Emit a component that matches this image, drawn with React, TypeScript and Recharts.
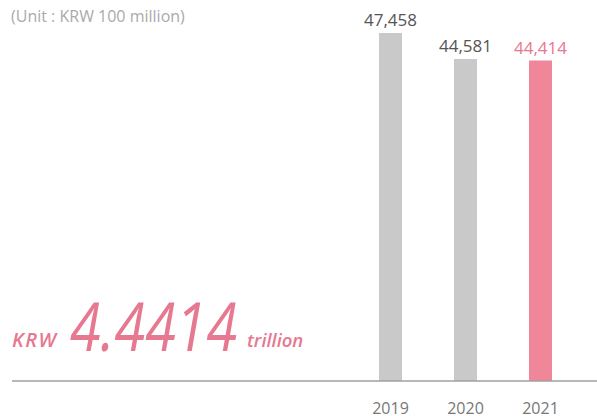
import { BarChart, Bar, XAxis, YAxis, Cell, LabelList } from "recharts"

// Sales, unit: KRW 100 million
const years = ["2019", "2020", "2021"]
const sales = [47458, 44581, 44414]

const data = years.map((year, i) => ({ year, value: sales[i] }))

const GRAY = "#c9c9c9"
const PINK = "#ef8699"
const PINK_TEXT = "#e6788f"
const FONT = '"Open Sans", sans-serif'

export default function App() {
  const last = data.length - 1

  // value label above each bar, latest year in pink
  const renderLabel = (props: any) => {
    const { x, y, width, value, index } = props
    return (
      <text
        x={x + width / 2}
        y={y - 7}
        textAnchor="middle"
        fontSize={17}
        fontFamily={FONT}
        fill={index === last ? PINK_TEXT : "#555"}
      >
        {Number(value).toLocaleString("en-US")}
      </text>
    )
  }

  return (
    <div
      style={{
        position: "absolute",
        left: 0,
        top: 0,
        width: 597,
        height: 416,
        background: "#fff",
        fontFamily: FONT
      }}
    >
      <BarChart
        width={597}
        height={416}
        data={data}
        margin={{ top: 10, right: 0, bottom: 0, left: 12 }}
      >
        <YAxis hide domain={[9000, 50000]} />
        <XAxis
          dataKey="year"
          height={35}
          padding={{ left: 341, right: 19 }}
          axisLine={{ stroke: "#a0a0a0", strokeWidth: 1.5 }}
          tickLine={false}
          tickMargin={16}
          tick={{ fill: "#777", fontSize: 16, fontFamily: FONT }}
        />
        <Bar dataKey="value" barSize={23} isAnimationActive={false}>
          {data.map((d, i) => (
            <Cell key={d.year} fill={i === last ? PINK : GRAY} />
          ))}
          <LabelList dataKey="value" content={renderLabel} />
        </Bar>
      </BarChart>

      <svg
        width={597}
        height={416}
        style={{ position: "absolute", left: 0, top: 0, pointerEvents: "none" }}
      >
        <text x={11} y={22} fontSize={16} fill="#aaa" fontFamily={FONT}>
          (Unit : KRW 100 million)
        </text>
        <text
          x={12}
          y={347}
          fontSize={20}
          fontWeight={600}
          fontStyle="italic"
          letterSpacing={1.5}
          fill={PINK_TEXT}
          fontFamily={FONT}
        >
          KRW
        </text>
        <text
          transform="translate(70,351) scale(0.83,1)"
          fontSize={67}
          fontStyle="italic"
          fill={PINK_TEXT}
          fontFamily={FONT}
        >
          4.4414
        </text>
        <text
          x={247}
          y={347}
          fontSize={18.5}
          fontWeight={600}
          fontStyle="italic"
          fill={PINK_TEXT}
          fontFamily={FONT}
        >
          trillion
        </text>
      </svg>
    </div>
  )
}
